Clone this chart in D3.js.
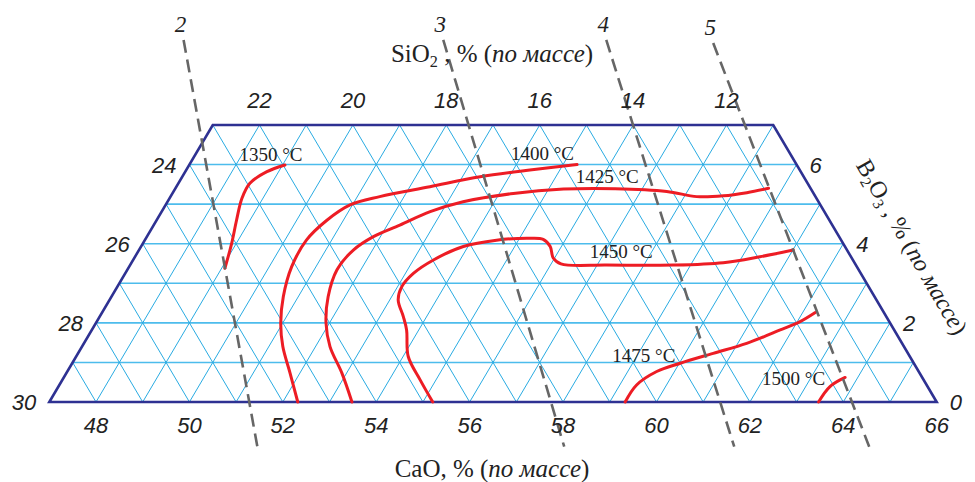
<!DOCTYPE html>
<html>
<head>
<meta charset="utf-8">
<script src="https://cdn.jsdelivr.net/npm/d3@7"></script>
<style>
  html, body { margin: 0; padding: 0; background: #fff; }
  svg { display: block; }
</style>
</head>
<body>
<script>
// ---------- DATA ----------
// Composition system: CaO + SiO2 + B2O3 = 77 (% по массе), field CaO 47..66, B2O3 0..7
const caoTicks = [48, 50, 52, 54, 56, 58, 60, 62, 64, 66];       // bottom axis (B2O3 = 0)
const sio2TopTicks = [22, 20, 18, 16, 14, 12];                    // top edge (B2O3 = 7)
const sio2LeftTicks = [30, 28, 26, 24];                           // left edge (CaO = 47)
const b2o3Ticks = [0, 2, 4, 6];                                   // right edge (SiO2 = 11)

// Isotherms: [CaO, B2O3]
const iso1350 = [[49.07,3.38],[48.90,4.01],[48.71,4.60],[48.55,5.15],[48.53,5.53],[48.75,5.82],[49.05,5.99]];
const iso1400 = [[52.32,0],[51.79,0.73],[51.30,1.40],[50.96,1.99],[50.68,2.66],[50.48,3.42],[50.46,4.09],[50.64,4.58],[50.95,4.98],[51.48,5.19],[52.43,5.44],[53.38,5.69],[54.36,5.86],[55.30,6.00]];
const iso1425 = [[53.48,0],[52.90,0.73],[52.31,1.40],[51.93,1.99],[51.64,2.66],[51.49,3.34],[51.59,3.84],[51.85,4.18],[52.27,4.47],[52.75,4.81],[53.33,5.06],[54.30,5.27],[55.32,5.38],[56.42,5.39],[57.56,5.32],[58.27,5.19],[58.83,5.21],[59.29,5.29],[59.70,5.40]];
const iso1450 = [[55.21,0],[54.66,0.56],[54.11,1.15],[53.74,1.82],[53.50,2.16],[53.18,2.58],[53.09,2.91],[53.17,3.25],[53.43,3.59],[53.90,3.93],[54.53,4.09],[55.22,4.14],[55.52,4.11],[55.76,3.93],[55.97,3.64],[56.21,3.49],[57.20,3.46],[58.63,3.46],[59.67,3.52],[60.38,3.67],[61.01,3.84]];
const iso1475 = [[59.33,0],[59.36,0.43],[59.62,0.77],[60.02,0.98],[60.60,1.23],[61.19,1.48],[61.74,1.82],[62.06,2.03],[62.27,2.26]];
const iso1500 = [[63.47,0],[63.52,0.39],[63.73,0.62]];

const isoNames = ["1350 °C", "1400 °C", "1425 °C", "1450 °C", "1475 °C", "1500 °C"];
const isoLabelPos = [[48.70,6.09],[54.50,6.12],[56.18,5.53],[57.43,3.63],[59.22,1.02],[62.72,0.43]];

// Dashed lines (CaO/SiO2 ratio): [top point, bottom point] as [CaO, B2O3]
const ratioNames = ["2", "3", "4", "5"];
const ratio2 = [[45.30,9.15],[52.02,-1.13]];
const ratio3 = [[50.86,9.15],[58.59,-1.13]];
const ratio4 = [[54.35,9.15],[62.23,-1.13]];
const ratio5 = [[56.68,9.07],[65.12,-1.13]];

// ---------- CHART ----------
const W = 975, H = 482;
const svg = d3.select("body").append("svg").attr("width", W).attr("height", H)
  .style("background", "#fff");

const x = d3.scaleLinear().domain([47, 66]).range([49.3, 936.7]);
const y = d3.scaleLinear().domain([0, 7]).range([402, 125]);
const X = (c, b) => x(c + b / 2);
const Y = b => y(b);

const gridColor = "#29abe2";
const edgeColor = "#2e3192";
const redColor = "#ed1c24";

// grid
const grid = svg.append("g").attr("fill", "none").attr("stroke", gridColor);
// horizontal (constant B2O3)
for (let b = 1; b <= 6; b++) {
  grid.append("line")
    .attr("x1", X(47, b)).attr("y1", Y(b))
    .attr("x2", X(66 - b, b)).attr("y2", Y(b))
    .attr("stroke-width", 1.6).attr("stroke", "#4dbcec");
}
// constant CaO (parallel to left edge)
for (let c = 48; c <= 65; c++) {
  const bEnd = Math.min(7, 66 - c);
  grid.append("line")
    .attr("x1", X(c, 0)).attr("y1", Y(0))
    .attr("x2", X(c, bEnd)).attr("y2", Y(bEnd))
    .attr("stroke-width", 1);
}
// constant SiO2 (parallel to right edge)
for (let s = 12; s <= 29; s++) {
  const bEnd = Math.min(7, 30 - s);
  grid.append("line")
    .attr("x1", X(77 - s, 0)).attr("y1", Y(0))
    .attr("x2", X(77 - s - bEnd, bEnd)).attr("y2", Y(bEnd))
    .attr("stroke-width", 1);
}

// boundary
const corners = [[47,0],[66,0],[59,7],[47,7]];
svg.append("polygon")
  .attr("points", corners.map(d => X(d[0], d[1]) + "," + Y(d[1])).join(" "))
  .attr("fill", "none").attr("stroke", edgeColor).attr("stroke-width", 2.6)
  .attr("stroke-linejoin", "miter");

// isotherms
const line = d3.line().x(d => X(d[0], d[1])).y(d => Y(d[1])).curve(d3.curveCatmullRom.alpha(0.5));
[iso1350, iso1400, iso1425, iso1450, iso1475, iso1500].forEach(iso => {
  svg.append("path").attr("d", line(iso)).attr("fill", "none")
    .attr("stroke", redColor).attr("stroke-width", 3).attr("stroke-linecap", "round");
});

// isotherm labels
svg.append("g").selectAll("text").data(isoNames).join("text")
  .attr("x", (d, i) => X(isoLabelPos[i][0], isoLabelPos[i][1]))
  .attr("y", (d, i) => Y(isoLabelPos[i][1]))
  .attr("text-anchor", "middle")
  .attr("font-family", "'Liberation Serif', 'Times New Roman', serif")
  .attr("font-size", 19).attr("fill", "#222")
  .text(d => d);

// dashed ratio lines
const straight = d3.line().x(d => X(d[0], d[1])).y(d => Y(d[1]));
const ratios = [ratio2, ratio3, ratio4, ratio5];
ratios.forEach((r, i) => {
  svg.append("path").attr("d", straight(r)).attr("fill", "none")
    .attr("stroke", "#666").attr("stroke-width", 2.6).attr("stroke-dasharray", "13,7");
  svg.append("text")
    .attr("x", X(r[0][0], r[0][1]) - 3).attr("y", Y(r[0][1]) - 8)
    .attr("text-anchor", "middle")
    .attr("font-family", "'Liberation Serif', 'Times New Roman', serif")
    .attr("font-style", "italic").attr("font-size", 23).attr("fill", "#222")
    .text(ratioNames[i]);
});

// tick labels
const sansIt = g => g.attr("font-family", "'Liberation Sans', Arial, sans-serif")
  .attr("font-style", "italic").attr("font-size", 22).attr("fill", "#222");

svg.append("g").call(sansIt).selectAll("text").data(caoTicks).join("text")
  .attr("x", d => X(d, 0)).attr("y", Y(0) + 31).attr("text-anchor", "middle").text(d => d);

svg.append("g").call(sansIt).selectAll("text").data(sio2TopTicks).join("text")
  .attr("x", d => X(77 - d - 7, 7)).attr("y", Y(7) - 17).attr("text-anchor", "middle").text(d => d);

svg.append("g").call(sansIt).selectAll("text").data(sio2LeftTicks).join("text")
  .attr("x", d => X(47, 30 - d) - 13).attr("y", d => Y(30 - d) + 8).attr("text-anchor", "end").text(d => d);

svg.append("g").call(sansIt).selectAll("text").data(b2o3Ticks).join("text")
  .attr("x", d => X(66 - d, d) + 13).attr("y", d => Y(d) + 8).attr("text-anchor", "start").text(d => d);

// axis titles
const serif = "'Liberation Serif', 'Times New Roman', serif";
function title(sel, parts) {
  parts.forEach(p => {
    const t = sel.append("tspan").text(p.t);
    if (p.sub) t.attr("font-size", "0.65em").attr("dy", "0.3em");
    if (p.up) t.attr("dy", "-0.195em");
    if (p.it) t.attr("font-style", "italic");
  });
}
const t1 = svg.append("text").attr("x", 492).attr("y", 62).attr("text-anchor", "middle")
  .attr("font-family", serif).attr("font-size", 25).attr("fill", "#222");
title(t1, [{t: "SiO"}, {t: "2", sub: true}, {t: " , % (", up: true}, {t: "по массе", it: true}, {t: ")"}]);

const t2 = svg.append("text").attr("x", 492).attr("y", 477).attr("text-anchor", "middle")
  .attr("font-family", serif).attr("font-size", 25).attr("fill", "#222");
title(t2, [{t: "CaO, % ("}, {t: "по массе", it: true}, {t: ")"}]);

const t3 = svg.append("text").attr("text-anchor", "middle")
  .attr("transform", "translate(905,251) rotate(60)")
  .attr("font-family", serif).attr("font-size", 24).attr("fill", "#222");
title(t3, [{t: "B"}, {t: "2", sub: true}, {t: "O", up: true}, {t: "3", sub: true}, {t: " , % (", up: true}, {t: "по массе", it: true}, {t: ")"}]);
</script>
</body>
</html>
